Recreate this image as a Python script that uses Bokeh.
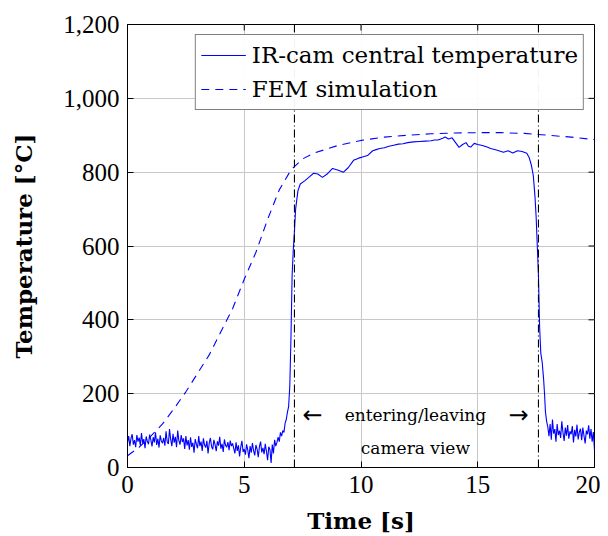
import math
from bokeh.plotting import figure
from bokeh.models import (Span, NumeralTickFormatter, FixedTicker,
                          Legend, LegendItem, ColumnDataSource, Range1d)
from bokeh.core.properties import value
from bokeh.embed import file_html
from bokeh.resources import INLINE

# ---------------- data ----------------
# IR camera: noisy start (0 .. 6.45 s, step 0.05)
ir_start_t = [round(i * 0.05, 2) for i in range(130)]
ir_start_T = [68, 85, 58, 79, 90, 62, 74, 55, 88, 70, 81, 60, 93, 66, 77, 52, 84, 71, 63, 89,
              75, 57, 82, 68, 95, 61, 78, 54, 87, 72, 66,
              80, 59, 98, 70, 64, 104, 76, 58, 91, 67, 83, 55, 100, 73, 62, 88, 69, 79, 50, 85,
              60, 74, 48, 82, 56, 67, 40, 77, 63, 52, 85, 58, 70, 45, 79, 61, 54, 72, 38, 66,
              80, 57, 49, 75, 62, 44, 71, 59, 83, 51, 64, 42, 76, 60, 55, 69, 47, 73, 58, 65,
              52, 38, 68, 45, 60, 30, 55, 72, 42, 50, 35, 63, 48, 25, 58, 40, 66, 46, 33, 61,
              50, 28, 57, 70, 41, 53, 36, 64, 44, 20, 56, 49, 12, 62, 38, 75, 58, 68, 82]
# heating / plateau / cooling
ir_mid_t = [6.5, 6.55, 6.6, 6.65, 6.7, 6.75, 6.8, 6.85, 6.9, 6.95, 7.0, 7.05, 7.1, 7.15, 7.2,
            7.3, 7.4, 7.6, 7.8, 7.97, 8.15, 8.35, 8.55, 8.78, 9.0, 9.25, 9.45, 9.68, 9.9, 10.1,
            10.28, 10.5, 10.65, 10.8, 11.0, 11.2, 11.4, 11.6, 11.8, 12.0, 12.25, 12.5, 12.75,
            13.0, 13.15, 13.3, 13.5, 13.6, 13.75, 13.9, 14.05, 14.2, 14.35, 14.5, 14.6, 14.7,
            14.85, 15.0, 15.2, 15.4, 15.55, 15.8, 16.1, 16.3, 16.5, 16.7, 16.9, 17.1, 17.2,
            17.3, 17.38, 17.45, 17.5, 17.55, 17.6, 17.65, 17.7, 17.76, 17.82, 17.86, 17.9, 17.95]
ir_mid_T = [70, 95, 85, 100, 95, 120, 130, 150, 165, 220, 350, 520, 590, 640, 700,
            750, 768, 777, 788, 797, 795, 786, 795, 810, 806, 800, 812, 832, 838, 842,
            845, 858, 861, 864, 866, 870, 873, 876, 877, 880, 882, 883, 884,
            885, 887, 887, 892, 895, 890, 893, 880, 867, 875, 880, 870, 868,
            878, 875, 872, 868, 864, 860, 854, 858, 852, 858, 856, 851, 840,
            818, 790, 735, 680, 600, 520, 380, 310, 285, 240, 200, 150, 125]
# noisy end (18.0 .. 20.0 s, step 0.05)
ir_end_t = [round(18.0 + i * 0.05, 2) for i in range(41)]
ir_end_T = [110, 85, 118, 75, 130, 92, 104, 70, 118, 88, 100, 80, 125, 95, 72, 108, 86, 115,
            78, 98, 90, 112, 68, 102, 84, 116, 76, 96, 105, 74, 108, 86, 65, 100, 90, 114, 78,
            104, 70, 96, 47]

ir_t = ir_start_t + ir_mid_t + ir_end_t
ir_T = ir_start_T + ir_mid_T + ir_end_T

# FEM simulation
fem_t = [0.0, 0.5, 1.0, 1.5, 2.0, 2.5, 3.0, 3.5, 4.0, 4.5, 5.0, 5.5, 6.0, 6.5, 7.0, 7.5,
         8.0, 9.0, 10.0, 11.0, 12.0, 13.0, 14.0, 15.0, 16.0, 17.0, 18.0, 19.0, 20.0]
fem_T = [32, 55, 85, 118, 160, 205, 255, 305, 368, 430, 510, 583, 672, 752, 806, 836,
         852, 872, 886, 895, 900, 904, 906, 907, 907, 905, 900, 895, 888]

# vertical markers (entering / leaving camera view)
marker_t = [7.15, 17.6]

# annotation
note_x = [12.33, 12.33]
note_y = [141, 54]
note_text = ["entering/leaving", "camera view"]
arrow_x = [7.92, 16.75]
arrow_y = [141, 141]
arrow_text = ["\u2190", "\u2192"]

x_ticks = [0, 5, 10, 15, 20]
y_ticks = [0, 200, 400, 600, 800, 1000, 1200]
x_min, x_max = 0, 20
y_min, y_max = 0, 1200

TICK_FONT = "Liberation Serif"
TEXT_FONT = "DejaVu Serif"

# ---------------- figure ----------------
p = figure(width=600, height=536, output_backend="svg", toolbar_location=None,
           x_range=Range1d(x_min, x_max), y_range=Range1d(y_min, y_max),
           min_border_left=127, min_border_right=6, min_border_top=24,
           min_border_bottom=69)
p.background_fill_color = "white"
p.outline_line_color = "black"
p.outline_line_width = 1

for ax in (p.xaxis[0], p.yaxis[0]):
    ax.major_tick_in = 6
    ax.major_tick_out = 0
    ax.minor_tick_in = 0
    ax.minor_tick_out = 0
    ax.axis_line_color = "black"
    ax.major_label_text_font = TICK_FONT
    ax.major_label_text_font_size = "25px"
    ax.major_label_text_color = "black"
    ax.axis_label_text_font = TEXT_FONT
    ax.axis_label_text_font_style = "bold"
    ax.axis_label_text_font_size = "23px"
    ax.axis_label_text_color = "black"

p.xaxis[0].ticker = FixedTicker(ticks=x_ticks)
p.yaxis[0].ticker = FixedTicker(ticks=y_ticks)
p.yaxis[0].formatter = NumeralTickFormatter(format="0,0")
p.xaxis[0].axis_label = "Time [s]"
p.yaxis[0].axis_label = "Temperature [°C]"
p.xaxis[0].major_label_standoff = 8
p.yaxis[0].major_label_standoff = 8
p.xaxis[0].axis_label_standoff = 11
p.yaxis[0].axis_label_standoff = 23

p.xgrid.ticker = FixedTicker(ticks=x_ticks)
p.ygrid.ticker = FixedTicker(ticks=y_ticks)
p.grid.grid_line_color = "#c8c8c8"
p.grid.grid_line_width = 1

# mirrored inward ticks on top and right edges
p.ray(x=x_ticks, y=[y_max] * len(x_ticks), length=6, length_units="screen",
      angle=-math.pi / 2, line_color="black", line_width=1)
p.ray(x=[x_max] * len(y_ticks), y=y_ticks, length=6, length_units="screen",
      angle=math.pi, line_color="black", line_width=1)

r_ir = p.line(ir_t, ir_T, line_color="#0000ff", line_width=1.1)
r_fem = p.line(fem_t, fem_T, line_color="#0000ff", line_width=1.1, line_dash="8 6")

for t in marker_t:
    p.add_layout(Span(location=t, dimension="height", line_color="black",
                      line_width=1.1, line_dash="8 3 1 3"))

src = ColumnDataSource(dict(x=note_x, y=note_y, text=note_text))
p.text(x="x", y="y", text="text", source=src, text_align="center",
       text_baseline="middle", text_font=value(TEXT_FONT), text_font_size="17px",
       text_color="black")
src_arrows = ColumnDataSource(dict(x=arrow_x, y=arrow_y, text=arrow_text))
p.text(x="x", y="y", text="text", source=src_arrows, text_align="center",
       text_baseline="middle", text_font=value("DejaVu Sans"), text_font_size="24px",
       text_color="black")

legend = Legend(items=[LegendItem(label="IR-cam central temperature", renderers=[r_ir]),
                       LegendItem(label="FEM simulation", renderers=[r_fem])],
                location="top_right")
legend.label_text_font = TEXT_FONT
legend.label_text_font_size = "23px"
legend.label_text_color = "black"
legend.border_line_color = "black"
legend.border_line_width = 1
legend.glyph_width = 45
legend.glyph_height = 30
legend.spacing = 4
legend.padding = 5
legend.margin = 10
legend.label_standoff = 6
p.add_layout(legend)

open("out.html", "w").write(file_html(p, INLINE))
